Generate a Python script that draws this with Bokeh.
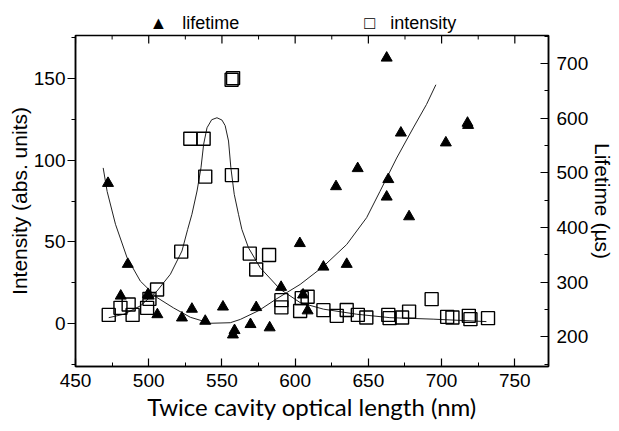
from bokeh.plotting import figure
from bokeh.models import (Range1d, LinearAxis, FixedTicker, Title)
from bokeh.embed import file_html
from bokeh.resources import INLINE

# ---- data ----
int_x = [472.7, 480.7, 486.3, 489.0, 498.9, 500.5, 505.7, 522.2, 528.4, 537.5, 538.6,
         556.8, 556.6, 557.6, 569.0, 573.4, 582.2, 590.6, 590.6, 603.4, 604.5, 608.5,
         619.3, 628.4, 635.2, 642.8, 648.6, 663.6, 664.5, 673.0, 677.8, 693.2, 703.8,
         707.4, 718.6, 719.7, 731.7]
int_y = [5.5, 9.8, 11.8, 5.5, 9.8, 15.3, 21.0, 44.1, 113.0, 113.0, 89.9,
         90.8, 149.0, 150.0, 42.9, 33.2, 42.0, 14.5, 10.1, 7.9, 15.7, 16.6,
         8.4, 4.9, 8.5, 5.5, 3.9, 5.5, 3.5, 3.9, 7.5, 15.1, 4.3,
         3.9, 4.9, 2.9, 3.5]

life_x = [472.2, 480.9, 485.7, 499.5, 500.0, 505.9, 522.7, 529.5, 538.6, 550.7, 557.5,
          558.6, 569.5, 573.4, 582.6, 590.4, 603.2, 605.4, 608.5, 619.3, 627.9, 635.2,
          642.7, 662.5, 662.5, 663.6, 672.2, 677.8, 702.9, 717.7, 718.1]
life_y = [481, 275, 333, 278, 275, 241, 235, 251, 229, 255, 204,
          212, 223, 254, 217, 291, 371, 277, 248, 328, 475, 333,
          508, 710, 456, 488, 573, 420, 555, 591, 587]

int_fit_x = [472.7, 483.0, 494.3, 505.7, 514.8, 522.7, 526.6, 529.5, 533.0, 535.7, 537.5,
             539.8, 543.0, 546.6, 550.0, 552.2, 554.5, 556.1, 558.4, 561.3, 563.6, 568.1,
             576.1, 589.7, 603.4, 619.3, 642.0, 664.7, 694.2, 730.6]
int_fit_y = [3.8, 5.9, 11.0, 20.1, 30.3, 44.5, 57.7, 66.9, 81.1, 95.3, 109.6,
             119.7, 124.6, 125.8, 124.4, 121.0, 111.6, 95.3, 79.1, 66.9, 57.7, 46.5,
             34.3, 21.2, 13.0, 9.0, 5.9, 3.8, 2.9, 1.4]

life_fit_x = [468.9, 471.6, 477.3, 485.2, 494.3, 505.7, 517.0, 528.4, 542.0, 555.7, 562.5,
              575.0, 587.5, 603.4, 619.3, 635.2, 648.8, 657.9, 669.3, 680.6, 689.7, 696.1]
life_fit_y = [509, 466, 406, 345, 302, 272, 253, 236, 225, 226, 232,
              248, 270, 296, 329, 369, 418, 466, 527, 582, 625, 661]

x_ticks = [450, 500, 550, 600, 650, 700, 750]
x_minor = [475, 525, 575, 625, 675, 725]
int_ticks = [0, 50, 100, 150]
int_minor = [-25, 25, 75, 125, 175]
life_ticks = [200, 300, 400, 500, 600, 700]
life_minor = [150, 250, 350, 450, 550, 650, 750]

legend_labels = ["lifetime", "intensity"]
legend_symbols = ["\u25B2", "\u25A1"]

X_RANGE = (450, 773)
Y_RANGE = (-26, 176)
LIFE_RANGE = (146, 751)

TICK_FONT = "Liberation Sans"
W, H = 619, 431
BL, BR, BT, BB = 75, 71, 35, 65
FW, FH = W - BL - BR, H - BT - BB

NB = "\u00a0"
legend_text = (legend_symbols[0] + NB * 3 + legend_labels[0] + NB * 25 +
               legend_symbols[1] + NB * 3 + legend_labels[1])

p = figure(width=W, height=H, x_range=Range1d(*X_RANGE), y_range=Range1d(*Y_RANGE),
           output_backend="svg", toolbar_location=None,
           min_border_left=BL, min_border_right=BR, min_border_top=BT, min_border_bottom=BB,
           x_axis_label="Twice cavity optical length (nm)",
           y_axis_label="Intensity (abs. units)")
p.title = Title(text=legend_text, align="left", offset=74, standoff=5,
                text_font=TICK_FONT, text_font_size="18px", text_font_style="normal",
                text_color="black")
p.extra_y_ranges = {"life": Range1d(*LIFE_RANGE)}
p.xgrid.visible = False
p.ygrid.visible = False
p.outline_line_color = "black"
p.outline_line_width = 1.5


def style_axis(ax, ticks, minor, inward):
    ax.ticker = FixedTicker(ticks=ticks, minor_ticks=minor)
    ax.axis_line_width = 1.5
    ax.axis_line_color = "black"
    ax.major_tick_line_color = "black"
    ax.minor_tick_line_color = "black"
    ax.major_tick_line_width = 1.2
    ax.minor_tick_line_width = 1
    if inward:
        ax.major_tick_in, ax.major_tick_out = 8, 0
        ax.minor_tick_in, ax.minor_tick_out = 4, 0
    else:
        ax.major_tick_in, ax.major_tick_out = 0, 8
        ax.minor_tick_in, ax.minor_tick_out = 0, 4
    ax.major_label_text_font = TICK_FONT
    ax.major_label_text_color = "black"
    ax.major_label_text_font_size = "19px"
    ax.axis_label_text_font_style = "normal"
    ax.axis_label_text_color = "black"


xa = p.xaxis[0]
style_axis(xa, x_ticks, x_minor, True)
xa.major_label_standoff = 7
xa.axis_label_text_font = "Lato"
xa.axis_label_text_font_size = "24px"
xa.axis_label_standoff = 2

ya = p.yaxis[0]
style_axis(ya, int_ticks, int_minor, False)
ya.major_label_standoff = 2
ya.axis_label_text_font = TICK_FONT
ya.axis_label_text_font_size = "21px"
ya.axis_label_standoff = 0

ra = LinearAxis(y_range_name="life", axis_label="Lifetime (µs)")
style_axis(ra, life_ticks, life_minor, True)
ra.major_label_standoff = 8
ra.axis_label_text_font = TICK_FONT
ra.axis_label_text_font_size = "21px"
ra.axis_label_standoff = 0
p.add_layout(ra, "right")

# ticks of the top frame edge (mirror of the bottom axis)
y_top = Y_RANGE[1]
px_per_unit = FH / (Y_RANGE[1] - Y_RANGE[0])
p.segment(x0=x_ticks, y0=[y_top] * len(x_ticks), x1=x_ticks,
          y1=[y_top - 8 / px_per_unit] * len(x_ticks), line_color="black", line_width=1.2)
p.segment(x0=x_minor, y0=[y_top] * len(x_minor), x1=x_minor,
          y1=[y_top - 4 / px_per_unit] * len(x_minor), line_color="black", line_width=1)

# fitted curves
p.line(int_fit_x, int_fit_y, line_color="#222222", line_width=1)
p.line(life_fit_x, life_fit_y, line_color="#222222", line_width=1, y_range_name="life")

# markers
p.scatter(int_x, int_y, marker="square", size=13, fill_alpha=0,
          line_color="black", line_width=1.4)
p.scatter(life_x, life_y, marker="triangle", size=11, fill_color="black",
          line_color="black", y_range_name="life")

open("out.html", "w").write(file_html(p, INLINE))
